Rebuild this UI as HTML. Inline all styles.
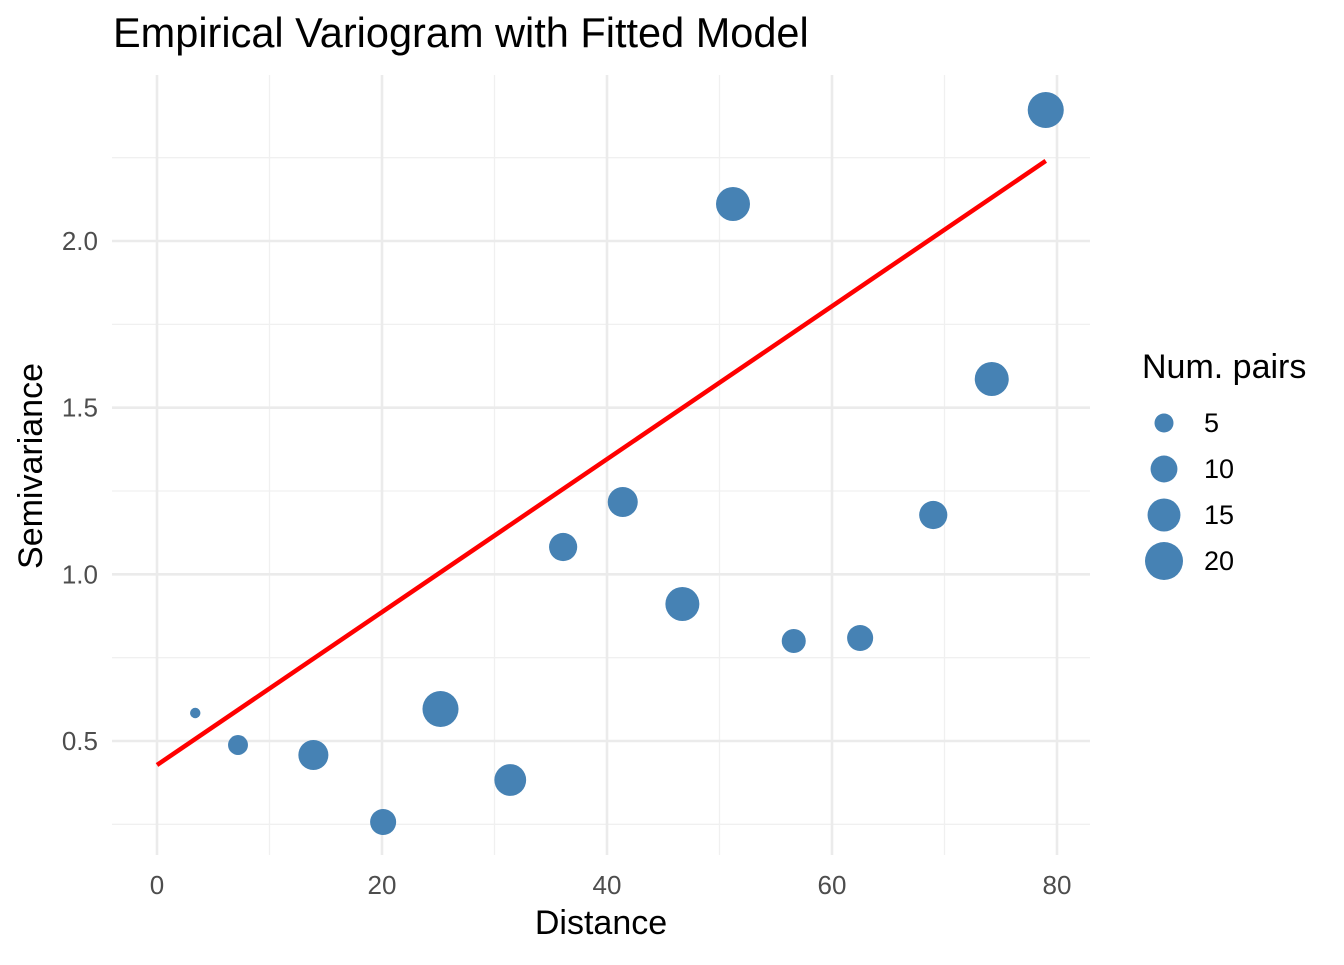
<!DOCTYPE html>
<html><head><meta charset="utf-8"><style>
body{margin:0;background:#fff;font-family:"Liberation Sans",sans-serif;}
</style></head><body>
<svg id="chart" width="1344" height="960" xmlns="http://www.w3.org/2000/svg" font-family="Liberation Sans, sans-serif">
<rect width="1344" height="960" fill="#fff"/>
<text x="113" y="47" font-size="41.5" fill="#000">Empirical Variogram with Fitted Model</text>
<g id="grid"></g>
<g id="marks"></g>
<text x="601" y="934" font-size="34" text-anchor="middle">Distance</text>
<text transform="translate(42,466) rotate(-90)" font-size="34" text-anchor="middle">Semivariance</text>
<g id="legend">
<text x="1142" y="378" font-size="34">Num. pairs</text>
</g>
</svg>
<script>
const distances=[3.4,7.2,13.9,20.1,25.2,31.4,36.1,41.4,46.7,51.2,56.6,62.5,69.0,74.2,79.0];
const gammas=[0.584,0.488,0.458,0.257,0.596,0.383,1.082,1.217,0.911,2.111,0.800,0.809,1.178,1.586,2.393];
const npairs=[1.5,5.5,12.5,9.4,18,14,11,12.5,16,16,8,9.4,11,16,18];
const xTicks=[0,20,40,60,80];
const yTicks=[0.5,1.0,1.5,2.0];
const fitIntercept=0.428, fitSlope=0.02294, fitMaxX=79;
const legendValues=[5,10,15,20];

const ns="http://www.w3.org/2000/svg";
const X=v=>157+v*11.25, Y=v=>741-(v-0.5)*333.33, R=n=>4.25*Math.sqrt(n);
const L=112,Rt=1090,T=75,B=855;
function mk(tag,attrs,parent){const e=document.createElementNS(ns,tag);for(const k in attrs)e.setAttribute(k,attrs[k]);parent.appendChild(e);return e;}
const grid=document.getElementById('grid'),marks=document.getElementById('marks'),leg=document.getElementById('legend');
for(let i=0;i<xTicks.length-1;i++){const m=(xTicks[i]+xTicks[i+1])/2;
 const g=mk('line',{x1:X(m),x2:X(m),y1:T,y2:B,stroke:'#f0f0f0','stroke-width':1.3},grid);
 }
const ym=[yTicks[0]-0.25,...yTicks.map(v=>v+0.25)];
ym.forEach(v=>{const g=mk('line',{x1:L,x2:Rt,y1:Y(v),y2:Y(v),stroke:'#f0f0f0','stroke-width':1.3},grid);
 });
xTicks.forEach(v=>{const g=mk('line',{x1:X(v),x2:X(v),y1:T,y2:B,stroke:'#ebebeb','stroke-width':2.6},grid);
 
 const t=mk('text',{x:X(v),y:894,'font-size':26,fill:'#4d4d4d','text-anchor':'middle'},grid);t.textContent=v;
 });
yTicks.forEach(v=>{const g=mk('line',{x1:L,x2:Rt,y1:Y(v),y2:Y(v),stroke:'#ebebeb','stroke-width':2.6},grid);
 
 const t=mk('text',{x:98,y:Y(v)+9,'font-size':26,fill:'#4d4d4d','text-anchor':'end'},grid);t.textContent=v.toFixed(1);
 });
distances.forEach((d,i)=>{const c=mk('circle',{cx:X(d),cy:Y(gammas[i]),r:R(npairs[i]),fill:'#4682B4'},marks);
 });
const ln=mk('line',{x1:X(0),y1:Y(fitIntercept),x2:X(fitMaxX),y2:Y(fitIntercept+fitSlope*fitMaxX),stroke:'#ff0000','stroke-width':4.5},marks);

legendValues.forEach((v,i)=>{const cy=423+i*46;
 const c=mk('circle',{cx:1164,cy:cy,r:R(v),fill:'#4682B4'},leg);
 
 const t=mk('text',{x:1204,y:cy+9,'font-size':27,fill:'#000'},leg);t.textContent=v;
 });
</script>
</body></html>
